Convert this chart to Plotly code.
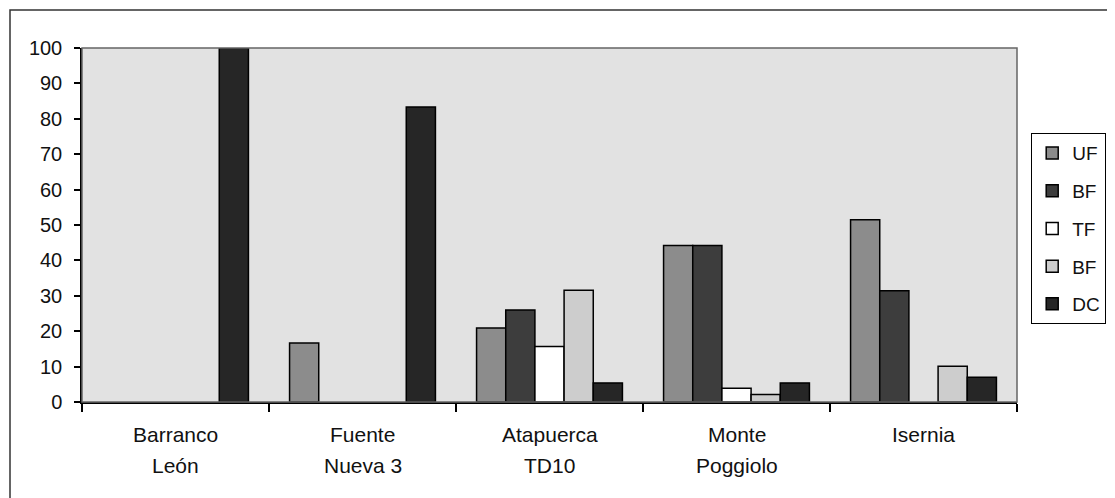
import plotly.graph_objects as go

# ---- data ----
sites_line1 = ["Barranco", "Fuente", "Atapuerca", "Monte", "Isernia"]
sites_line2 = ["León", "Nueva 3", "TD10", "Poggiolo", ""]
categories = ["Barranco León", "Fuente Nueva 3", "Atapuerca TD10", "Monte Poggiolo", "Isernia"]

series_names = ["UF", "BF", "TF", "BF", "DC"]
uf = [None, 16.7, 20.9, 44.2, 51.5]
bf = [None, None, 26.0, 44.2, 31.4]
tf = [None, None, 15.7, 3.9, None]
bf2 = [None, None, 31.6, 2.1, 10.1]
dc = [100, 83.3, 5.4, 5.4, 7.0]
series_values = [uf, bf, tf, bf2, dc]

y_ticks = [0, 10, 20, 30, 40, 50, 60, 70, 80, 90, 100]

colors = ["#8c8c8c", "#3d3d3d", "#ffffff", "#cdcdcd", "#262626"]

FONT = "Liberation Sans, Arial, sans-serif"

fig = go.Figure()
for i, (name, vals) in enumerate(zip(series_names, series_values)):
    fig.add_trace(go.Bar(
        x=categories, y=vals, name=name,
        legendgroup=f"g{i}",
        marker=dict(color=colors[i], line=dict(color="#000000", width=1.5)),
    ))

# two-line category labels
annotations = []
for cat, l1, l2 in zip(categories, sites_line1, sites_line2):
    annotations.append(dict(x=cat, xref="x", y=0, yref="paper", yshift=-32,
                            text=l1, showarrow=False, yanchor="middle",
                            font=dict(family=FONT, size=21, color="#111")))
    if l2:
        annotations.append(dict(x=cat, xref="x", y=0, yref="paper", yshift=-63,
                                text=l2, showarrow=False, yanchor="middle",
                                font=dict(family=FONT, size=21, color="#111")))

# page has an 8px body margin, so the figure is offset by 8px
OFF = 8
W, H = 1115 - OFF, 498 - OFF
ml, mt = 82 - OFF, 48 - OFF
pw, ph = 935, 354
mr = W - ml - pw
mb = H - mt - ph
bx = (10 - OFF - ml) / pw
by = (ph + mt - (10 - OFF)) / ph

fig.update_layout(
    width=W, height=H,
    margin=dict(l=ml, r=mr, t=mt, b=mb, autoexpand=False),
    paper_bgcolor="#ffffff",
    plot_bgcolor="#e2e2e2",
    barmode="group", bargap=0.22, bargroupgap=0,
    font=dict(family=FONT, size=19, color="#111"),
    showlegend=True,
    legend=dict(x=(1031 - 82) / pw, y=(402 - 133) / ph,
                xanchor="left", yanchor="top",
                bgcolor="#ffffff", bordercolor="#000000", borderwidth=1.2,
                font=dict(family=FONT, size=19, color="#111"),
                tracegroupgap=10, itemwidth=30),
    annotations=annotations,
    shapes=[
        dict(type="rect", xref="paper", yref="paper", x0=0, y0=0, x1=1, y1=1,
             line=dict(color="#666666", width=1.5), layer="above"),
        dict(type="path", xref="paper", yref="paper",
             path=f"M {bx},-0.4 L {bx},{by} L 1.3,{by}",
             line=dict(color="#333333", width=1.5)),
    ],
)
fig.update_xaxes(
    type="category", showticklabels=False, tickson="boundaries",
    ticks="outside", ticklen=8, tickcolor="#000", tickwidth=1.5,
    showline=True, linecolor="#000", linewidth=1.5, showgrid=False,
)
fig.update_yaxes(
    range=[0, 100], tickvals=y_ticks, ticks="outside", ticklen=6,
    tickcolor="#000", tickwidth=1.5, ticklabelstandoff=8,
    showline=True, linecolor="#000", linewidth=1.5, showgrid=False,
    zeroline=False, tickfont=dict(family=FONT, size=20, color="#111"),
)

fig.write_html("out.html")
